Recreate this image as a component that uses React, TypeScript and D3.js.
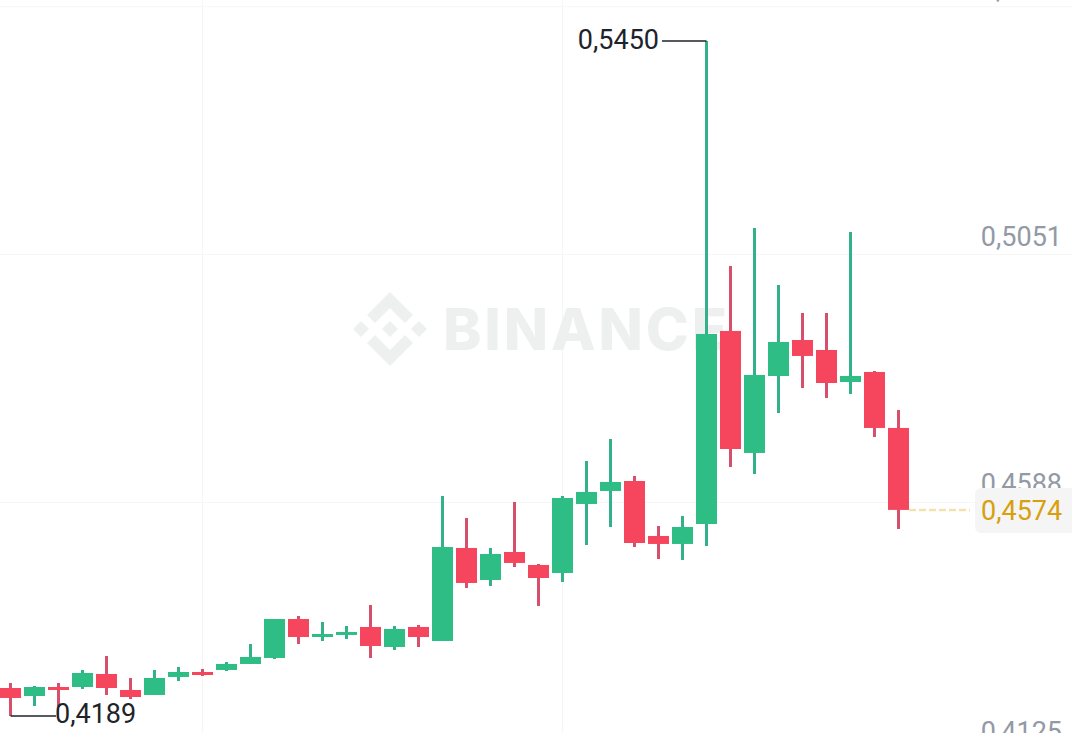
import React, { useRef, useEffect } from 'react';
import * as d3 from 'd3';

const opens = [
  0.42413, 0.42264, 0.42432, 0.42432, 0.42675, 0.42376, 0.42283, 0.42619, 0.42712, 0.4275,
  0.42862, 0.42974, 0.43702, 0.43366, 0.43404, 0.43553, 0.43179, 0.43553, 0.43291, 0.45029,
  0.44431, 0.44954, 0.44711, 0.44562, 0.45851, 0.46094, 0.4628, 0.45253, 0.45104, 0.45477,
  0.49083, 0.46804, 0.48242, 0.48914, 0.48728, 0.4813, 0.48317, 0.47271,
];
const highs = [
  0.42507, 0.42451, 0.42507, 0.4275, 0.43011, 0.426, 0.4275, 0.42806, 0.42768, 0.42899,
  0.43235, 0.43702, 0.43758, 0.43646, 0.43572, 0.43964, 0.43572, 0.4359, 0.46, 0.45589,
  0.45029, 0.45888, 0.4473, 0.46, 0.46654, 0.47065, 0.46374, 0.4544, 0.45627, 0.545,
  0.50297, 0.51007, 0.49942, 0.49419, 0.49419, 0.50932, 0.48335, 0.47607,
];
const lows = [
  0.4189, 0.42077, 0.42059, 0.42395, 0.42283, 0.42208, 0.42283, 0.42544, 0.42638, 0.42731,
  0.42862, 0.42955, 0.43235, 0.43291, 0.43329, 0.42974, 0.43123, 0.43179, 0.43291, 0.44282,
  0.44319, 0.44674, 0.43945, 0.44394, 0.45085, 0.45421, 0.45047, 0.44823, 0.44805, 0.45066,
  0.46542, 0.46411, 0.47551, 0.48018, 0.47831, 0.47906, 0.47102, 0.45384,
];
const closes = [
  0.42227, 0.42432, 0.42376, 0.42694, 0.42413, 0.42245, 0.426, 0.42712, 0.42656, 0.42862,
  0.42993, 0.43702, 0.43366, 0.43422, 0.4346, 0.43198, 0.43516, 0.43366, 0.45047, 0.44375,
  0.44917, 0.44749, 0.44468, 0.45963, 0.46075, 0.46262, 0.45122, 0.45104, 0.45421, 0.49027,
  0.46878, 0.48261, 0.48877, 0.48616, 0.48111, 0.48242, 0.47271, 0.4574,
];
const priceTicks = [0.5514, 0.5051, 0.4588, 0.4125];
const timeGridIndexes = [8, 23];
const highest = 0.545;
const lowest = 0.4189;
const lastPrice = 0.4574;

const GREEN = '#2EBD85';
const RED = '#F6465D';
const GREEN_WICK = '#34B08A';
const RED_WICK = '#D64F6B';
const FONT = 'Roboto, sans-serif';
const FONT_SIZE = 27;

const fmt = (v: number) => d3.format('.4f')(v).replace('.', ',');

const App: React.FC = () => {
  const svgRef = useRef<SVGSVGElement | null>(null);

  useEffect(() => {
    const svg = d3.select(svgRef.current);
    svg.selectAll('*').remove();

    const width = 1072;
    const height = 733;
    const idx = d3.range(opens.length);

    const x = d3.scalePoint<number>().domain(idx).range([10.5, 898.5]);
    const y = d3.scaleLinear().domain([lowest, highest]).range([716, 41]);

    // grid
    const grid = svg.append('g').attr('stroke', '#F6F6F6').attr('stroke-width', 1);
    grid
      .selectAll('line.h')
      .data(priceTicks)
      .join('line')
      .attr('class', 'h')
      .attr('x1', 0)
      .attr('x2', width)
      .attr('y1', d => y(d))
      .attr('y2', d => y(d));
    grid
      .selectAll('line.v')
      .data(timeGridIndexes)
      .join('line')
      .attr('class', 'v')
      .attr('x1', d => x(d) as number)
      .attr('x2', d => x(d) as number)
      .attr('y1', 0)
      .attr('y2', height);

    // watermark
    const mark = svg.append('g').attr('fill', '#EEF0F0');
    const logo = mark.append('g').attr('transform', 'translate(390,329)');
    logo.append('path').attr('d', 'M0,-8L8,0L0,8L-8,0Z');
    logo.append('path').attr('d', 'M-29,-8L-21,0L-29,8L-37,0Z');
    logo.append('path').attr('d', 'M29,-8L37,0L29,8L21,0Z');
    logo.append('path').attr('d', 'M0,-37L23,-14L15,-6L0,-21L-15,-6L-23,-14Z');
    logo.append('path').attr('d', 'M0,37L23,14L15,6L0,21L-15,6L-23,14Z');
    mark
      .append('text')
      .attr('x', 443)
      .attr('y', 350)
      .attr('font-family', 'Inter, sans-serif')
      .attr('font-weight', 800)
      .attr('font-size', 58)
      .attr('textLength', 284)
      .attr('lengthAdjust', 'spacing')
      .text('BINANCE');

    // axis labels
    svg
      .append('g')
      .selectAll('text')
      .data(priceTicks)
      .join('text')
      .attr('x', 1062)
      .attr('y', d => y(d) - 9)
      .attr('text-anchor', 'end')
      .attr('font-family', FONT)
      .attr('font-size', FONT_SIZE)
      .attr('fill', '#929AA5')
      .text(d => fmt(d));

    // candles
    const bodyW = 21;
    const candles = svg
      .append('g')
      .selectAll('g')
      .data(idx)
      .join('g');
    candles
      .append('line')
      .attr('x1', i => x(i) as number)
      .attr('x2', i => x(i) as number)
      .attr('y1', i => y(highs[i]))
      .attr('y2', i => y(lows[i]))
      .attr('stroke-width', 3)
      .attr('stroke', i => (closes[i] >= opens[i] ? GREEN_WICK : RED_WICK));
    candles
      .append('rect')
      .attr('x', i => (x(i) as number) - bodyW / 2)
      .attr('width', bodyW)
      .attr('y', i => y(Math.max(opens[i], closes[i])))
      .attr('height', i => Math.abs(y(opens[i]) - y(closes[i])))
      .attr('fill', i => (closes[i] >= opens[i] ? GREEN : RED));

    // last price
    const lastY = y(lastPrice);
    svg
      .append('line')
      .attr('x1', (x(37) as number) + bodyW / 2)
      .attr('x2', 970)
      .attr('y1', lastY)
      .attr('y2', lastY)
      .attr('stroke', '#F3E2B0')
      .attr('stroke-width', 2.5)
      .attr('stroke-dasharray', '7 3');
    svg
      .append('rect')
      .attr('x', 975)
      .attr('y', lastY - 22)
      .attr('width', 110)
      .attr('height', 45)
      .attr('rx', 6)
      .attr('fill', '#F5F5F5');
    svg
      .append('text')
      .attr('x', 981)
      .attr('y', lastY + 10)
      .attr('font-family', FONT)
      .attr('font-size', FONT_SIZE)
      .attr('fill', '#D89F0E')
      .text(fmt(lastPrice));

    // high / low annotations
    const hi = idx[d3.maxIndex(highs)];
    const lo = idx[d3.minIndex(lows)];
    svg
      .append('line')
      .attr('x1', 662)
      .attr('x2', x(hi) as number)
      .attr('y1', y(highest))
      .attr('y2', y(highest))
      .attr('stroke', '#1E2329')
      .attr('stroke-width', 1.5);
    svg
      .append('text')
      .attr('x', 659)
      .attr('y', y(highest) + 8)
      .attr('text-anchor', 'end')
      .attr('font-family', FONT)
      .attr('font-size', FONT_SIZE)
      .attr('fill', '#1E2329')
      .text(fmt(highest));
    svg
      .append('line')
      .attr('x1', x(lo) as number)
      .attr('x2', 56)
      .attr('y1', y(lowest))
      .attr('y2', y(lowest))
      .attr('stroke', '#1E2329')
      .attr('stroke-width', 1.5);
    svg
      .append('text')
      .attr('x', 55)
      .attr('y', y(lowest) + 7)
      .attr('font-family', FONT)
      .attr('font-size', FONT_SIZE)
      .attr('fill', '#1E2329')
      .text(fmt(lowest));
  }, []);

  return (
    <svg
      ref={svgRef}
      width="1072"
      height="733"
      style={{ position: 'absolute', left: 0, top: 0, background: '#FFFFFF' }}
    />
  );
};

export default App;
